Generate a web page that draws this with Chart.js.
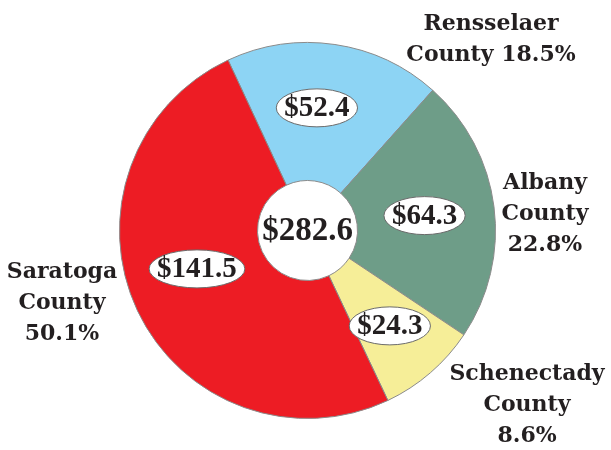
<!DOCTYPE html>
<html lang="en">
<head>
  <meta charset="UTF-8" />
  <title>Capital Region Counties</title>
  <script src="https://cdn.jsdelivr.net/npm/chart.js"></script>
  <style>
    html, body { margin: 0; padding: 0; background: #fff; }
    #wrap { width: 611px; height: 450px; position: relative; }
  </style>
</head>
<body>
  <div id="wrap"><canvas id="pie"></canvas></div>

<script>
  // values in $ (millions), order clockwise starting at Rensselaer
  const counties = ["Rensselaer", "Albany", "Schenectady", "Saratoga"];
  const amounts = [52.4, 64.3, 24.3, 141.5];
  const shares = ["18.5%", "22.8%", "8.6%", "50.1%"];
  const total = 282.6;
  const sliceColors = ["#8DD4F4", "#6E9D88", "#F6EE98", "#ED1C24"];

  // outside labels (lines + anchor)
  const outsideLabels = [
    { lines: ["Rensselaer", "County 18.5%"], x: 491, y: 24 },
    { lines: ["Albany", "County", "22.8%"], x: 545, y: 183 },
    { lines: ["Schenectady", "County", "8.6%"], x: 527, y: 374 },
    { lines: ["Saratoga", "County", "50.1%"], x: 62, y: 272 }
  ];
  // small nudges so the value ovals sit like the original
  const ovalRadius = [123, 118, 126, 117];
  const ovalNudge = [-4, 0, 0, 6];

  const ink = "#231F20";

  const labelPlugin = {
    id: "labels",
    afterDatasetsDraw(chart) {
      const ctx = chart.ctx;
      const arcs = chart.getDatasetMeta(0).data;
      ctx.save();

      // value ovals
      ctx.font = "bold 29px 'Liberation Serif'";
      ctx.textAlign = "center";
      ctx.textBaseline = "middle";
      arcs.forEach((arc, i) => {
        const p = arc.getProps(["x", "y", "startAngle", "endAngle"], true);
        const mid = (p.startAngle + p.endAngle) / 2 + ovalNudge[i] * Math.PI / 180;
        const cx = p.x + Math.cos(mid) * ovalRadius[i];
        const cy = p.y + Math.sin(mid) * ovalRadius[i];
        const txt = "$" + amounts[i].toFixed(1);
        const w = ctx.measureText(txt).width;
        ctx.beginPath();
        ctx.ellipse(cx, cy, w / 2 + 8, 19, 0, 0, Math.PI * 2);
        ctx.fillStyle = "#fff";
        ctx.fill();
        ctx.strokeStyle = "#6b6b6b";
        ctx.lineWidth = 1;
        ctx.stroke();
        ctx.fillStyle = ink;
        ctx.fillText(txt, cx, cy + 1);
      });

      // total in the hole
      const c = arcs[0].getProps(["x", "y"], true);
      ctx.font = "bold 33px 'Liberation Serif'";
      ctx.fillStyle = ink;
      ctx.fillText("$" + total.toFixed(1), c.x, c.y + 1);

      // county names
      ctx.font = "bold 22px 'DejaVu Serif'";
      outsideLabels.forEach(l => {
        l.lines.forEach((line, k) => {
          ctx.fillText(line, l.x, l.y + k * 31);
        });
      });
      ctx.restore();
    }
  };

  new Chart(document.getElementById("pie"), {
    type: "doughnut",
    data: {
      labels: counties,
      datasets: [{
        data: amounts,
        backgroundColor: sliceColors,
        borderColor: "#8a8a8a",
        borderWidth: 1
      }]
    },
    options: {
      responsive: true,
      maintainAspectRatio: false,
      animation: false,
      rotation: -25,
      cutout: 50,
      layout: { padding: { left: 119, right: 115, top: 42, bottom: 31 } },
      plugins: {
        legend: { display: false },
        tooltip: { enabled: false }
      }
    },
    plugins: [labelPlugin]
  });
</script>
</body>
</html>
